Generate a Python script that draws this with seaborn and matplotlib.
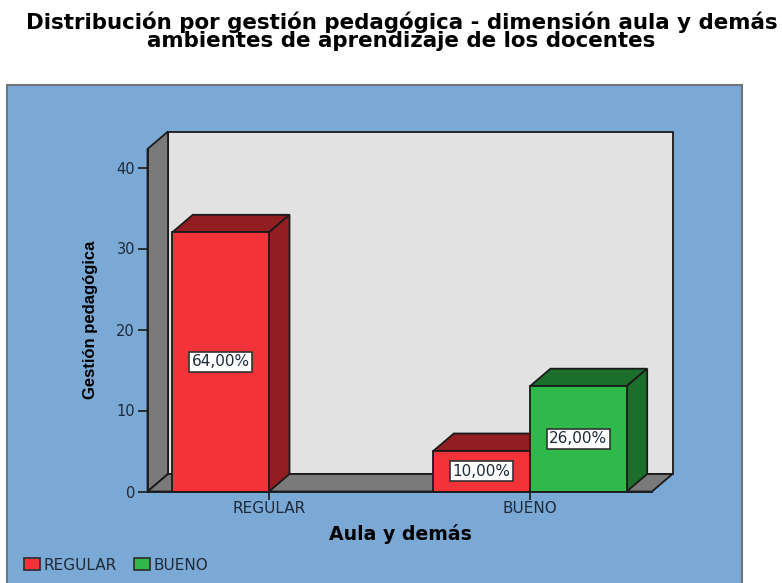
import pandas as pd
import matplotlib
matplotlib.use('Agg')
import matplotlib.pyplot as plt
import seaborn as sns
from matplotlib.patches import Polygon, Rectangle, Patch

# Values
aula = ['REGULAR', 'BUENO', 'BUENO']
gestion = ['REGULAR', 'REGULAR', 'BUENO']
counts = [32, 5, 13]
pct_labels = ['64,00%', '10,00%', '26,00%']
categories = ['REGULAR', 'BUENO']
yticks = [0, 10, 20, 30, 40]

title = 'Distribución por gestión pedagógica - dimensión aula y demás\nambientes de aprendizaje de los docentes'
xlabel = 'Aula y demás'
ylabel = 'Gestión pedagógica'

front_colors = {'REGULAR': '#F33339', 'BUENO': '#2FB94B'}
side_colors = {'REGULAR': '#921E22', 'BUENO': '#1C6E2D'}
panel_color = '#7BA9D6'
wall_color = '#E2E2E2'
floor_color = '#7A7A7A'
edge_color = '#1A1A1A'
text_color = '#1E2A38'

W, H = 782, 583
sns.set_theme(style='white')
plt.rcParams['font.family'] = ['DejaVu Sans']

fig = plt.figure(figsize=(W / 100, H / 100), dpi=100, facecolor='white')

# Blue chart panel behind everything, runs off the bottom of the image
fig.add_artist(Rectangle((7 / W, -0.02), 735 / W, 1.02 - 85 / H, transform=fig.transFigure,
                         facecolor=panel_color, edgecolor='#6E7478', linewidth=1.5, zorder=-5))

# Axes = front plane of the fake 3D box
left, right, top, bottom = 147.5, 652, 149, 491.5
ax = fig.add_axes([left / W, 1 - bottom / H, (right - left) / W, (bottom - top) / H])
ax.patch.set_alpha(0)

df = pd.DataFrame({'aula': aula, 'gestion': gestion, 'count': counts})
sns.barplot(data=df, x='aula', y='count', hue='gestion', order=categories, hue_order=categories,
            palette=front_colors, width=0.741, gap=0, dodge=True, legend=False, ax=ax,
            edgecolor=edge_color, linewidth=1.3, saturation=1)

px_x = 261.0
px_y = 8.1
ax.set_xlim((left - 269) / px_x, (right - 269) / px_x)
ax.set_ylim(0, (bottom - top) / px_y)
dx = 20.5 / px_x
dy = 17.5 / px_y

x0, x1 = ax.get_xlim()
y0, y1 = ax.get_ylim()


def box_face(points, color, z):
    ax.add_patch(Polygon(points, closed=True, facecolor=color, edgecolor=edge_color,
                         linewidth=1.3, clip_on=False, zorder=z))


# Back wall, left wall, floor
box_face([(x0 + dx, y0 + dy), (x1 + dx, y0 + dy), (x1 + dx, y1 + dy), (x0 + dx, y1 + dy)], wall_color, 0.5)
box_face([(x0, y0), (x0 + dx, y0 + dy), (x0 + dx, y1 + dy), (x0, y1)], floor_color, 0.6)
box_face([(x0, y0), (x1, y0), (x1 + dx, y0 + dy), (x0 + dx, y0 + dy)], floor_color, 0.7)

# Top and side faces for each bar, taken from the bars seaborn drew
bars = sorted([b for b in ax.patches if isinstance(b, Rectangle) and b.get_height() > 0], key=lambda b: b.get_x())
for bar, group, label in zip(bars, gestion, pct_labels):
    bx0, bx1 = bar.get_x(), bar.get_x() + bar.get_width()
    h = bar.get_height()
    box_face([(bx0, h), (bx1, h), (bx1 + dx, h + dy), (bx0 + dx, h + dy)], side_colors[group], 2)
    box_face([(bx1, 0), (bx1 + dx, dy), (bx1 + dx, h + dy), (bx1, h)], side_colors[group], 2)
    bar.set_zorder(3)
    ax.text((bx0 + bx1) / 2, h / 2, label, ha='center', va='center', fontsize=11, color=text_color,
            zorder=5, bbox=dict(boxstyle='square,pad=0.15', facecolor='white', edgecolor='#333333', linewidth=1.2))

# Axes cosmetics
for name in ['top', 'right']:
    ax.spines[name].set_visible(False)
for name in ['left', 'bottom']:
    ax.spines[name].set_color(edge_color)
    ax.spines[name].set_linewidth(1.3)
    ax.spines[name].set_zorder(4)
ax.set_yticks(yticks)
ax.set_xticks(range(len(categories)))
ax.set_xticklabels(categories)
ax.tick_params(axis='y', left=True, length=7.5, width=1.2, color=edge_color, labelsize=10.5, labelcolor=text_color, pad=1.5)
ax.tick_params(axis='x', bottom=True, length=5.5, width=1.2, color=edge_color, labelsize=11, labelcolor=text_color, pad=1.5)

ax.set_xlabel(xlabel, fontsize=13.6, fontweight='bold', color='black', va='center')
ax.xaxis.set_label_coords((400 - left) / (right - left), (bottom - 534) / (bottom - top))
ax.set_ylabel(ylabel, fontsize=12, fontweight='bold', color='black', family='Liberation Sans', va='center')
ax.yaxis.set_label_coords((91 - left) / (right - left), (bottom - 320) / (bottom - top))

fig.text(401.5 / W, 1 - 31 / H, title, ha='center', va='center', fontsize=15.4, fontweight='bold',
         color='black', linespacing=0.88)

# Legend along the bottom left of the panel
handles = [Patch(facecolor=front_colors[c], edgecolor='#333333', linewidth=1.3, label=c) for c in categories]
fig.legend(handles=handles, loc='center left', bbox_to_anchor=(24 / W, 1 - 565 / H), ncol=2, frameon=False,
           fontsize=11, handlelength=1.05, handleheight=0.8, handletextpad=0.25, columnspacing=1.1,
           labelcolor=text_color, borderpad=0, borderaxespad=0)

fig.savefig('out.png', dpi=100, facecolor='white')
